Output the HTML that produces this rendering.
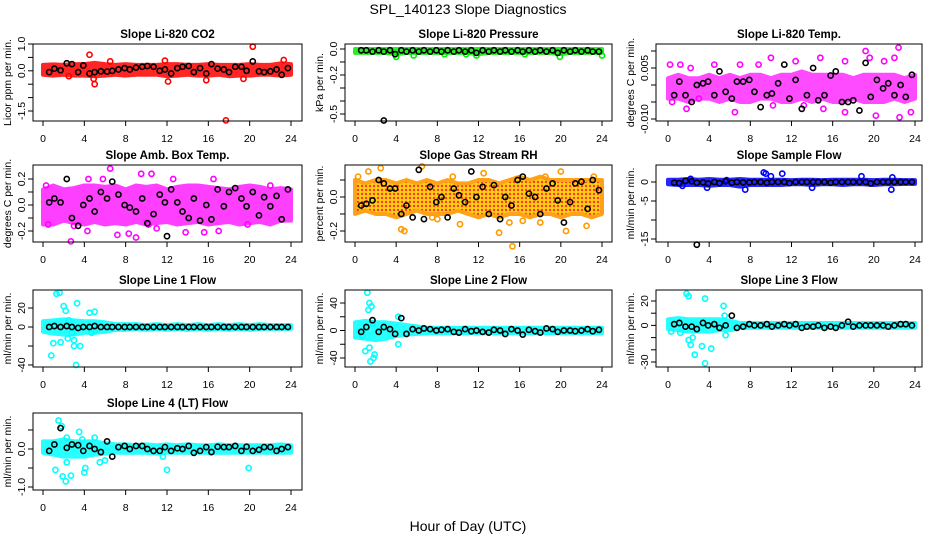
<!DOCTYPE html>
<html><head><meta charset="utf-8"><style>
html,body{margin:0;padding:0;background:#fff;}
svg{display:block;font-family:"Liberation Sans",sans-serif;}
</style></head><body>
<svg id="chart" width="936" height="540" viewBox="0 0 936 540">
<defs>
<pattern id="rhpat" width="4" height="4" patternUnits="userSpaceOnUse">
<rect width="4" height="4" fill="#ffcc00"/>
<circle cx="2" cy="2" r="1.2" fill="#ff2200"/>
</pattern>
</defs>
<text x="468" y="14" font-size="14" text-anchor="middle">SPL_140123  Slope Diagnostics</text>
<text x="468" y="531" font-size="14" text-anchor="middle">Hour of Day (UTC)</text>
</svg>
<script>
// ---- data ----
const hours = [0,1,2,3,4,5,6,7,8,9,10,11,12,13,14,15,16,17,18,19,20,21,22,23,24];
const blackTimes = [0.6,1.1,1.7,2.3,2.8,3.4,3.9,4.5,5.0,5.6,6.2,6.7,7.3,7.9,8.4,9.0,9.6,10.1,10.7,11.3,11.8,12.4,13.0,13.5,14.1,14.6,15.2,15.8,16.3,16.9,17.5,18.0,18.6,19.2,19.7,20.3,20.9,21.4,22.0,22.6,23.1,23.7];

const co2Upper = [0.22,0.24,0.22,0.25,0.25,0.3,0.25,0.22,0.25,0.22,0.22,0.22,0.25,0.25,0.22,0.22,0.25,0.22,0.22,0.22,0.25,0.22,0.22,0.28,0.25];
const co2Lower = [-0.15,-0.18,-0.15,-0.18,-0.18,-0.2,-0.18,-0.15,-0.18,-0.15,-0.15,-0.15,-0.2,-0.18,-0.15,-0.18,-0.18,-0.15,-0.2,-0.18,-0.18,-0.15,-0.15,-0.18,-0.15];
const co2OutX = [4.5,5.0,4.9,11.8,12.1,17.7,20.3,19.4,6.5,23.3,2.5,15.8];
const co2OutY = [0.6,-0.5,-0.3,0.38,-0.4,-1.85,0.9,-0.3,0.35,0.4,-0.2,-0.35];
const co2Black = [-0.05,0.08,0.02,0.28,0.25,-0.05,0.2,-0.1,-0.05,-0.02,-0.03,0.0,0.05,0.1,0.05,0.12,0.15,0.18,0.15,0.0,0.05,-0.1,0.1,0.15,0.18,-0.05,0.1,-0.1,0.25,0.08,0.05,-0.05,0.15,0.15,0.0,0.35,-0.02,-0.05,-0.02,0.05,-0.15,0.1];

const presUpper = [0.0,0.0,0.0,0.0,0.0,0.0,0.0,0.0,0.0,0.0,0.0,0.0,0.0,0.0,0.0,0.0,0.0,0.0,0.0,0.0,0.0,0.0,0.0,0.0,0.0];
const presLower = [-0.03,-0.03,-0.03,-0.03,-0.04,-0.03,-0.03,-0.03,-0.03,-0.03,-0.03,-0.03,-0.04,-0.03,-0.03,-0.03,-0.03,-0.03,-0.03,-0.03,-0.04,-0.03,-0.03,-0.03,-0.03];
const presOutX = [4.0,5.7,11.8,19.9,24.0,16.5,8.7,10.8];
const presOutY = [-0.06,-0.05,-0.05,-0.06,-0.05,-0.04,-0.04,-0.04];
const presBlack = [-0.01,-0.01,-0.02,-0.01,-0.02,-0.01,-0.04,-0.01,-0.02,-0.01,-0.02,-0.01,-0.02,-0.01,-0.02,-0.01,-0.02,-0.01,-0.02,-0.01,-0.03,-0.01,-0.02,-0.01,-0.02,-0.01,-0.02,-0.01,-0.02,-0.01,-0.02,-0.01,-0.02,-0.01,-0.03,-0.01,-0.02,-0.01,-0.02,-0.01,-0.02,-0.02];
const presExtraX = [2.8];
const presExtraY = [-0.55];

const tempUpper = [0.002,0.003,0.002,0.002,0.003,0.002,0.003,0.002,0.003,0.003,0.002,0.003,0.003,0.004,0.003,0.003,0.003,0.003,0.002,0.003,0.003,0.003,0.003,0.002,0.003];
const tempLower = [-0.004,-0.004,-0.005,-0.004,-0.004,-0.005,-0.004,-0.005,-0.005,-0.004,-0.004,-0.005,-0.005,-0.004,-0.005,-0.004,-0.005,-0.005,-0.004,-0.005,-0.005,-0.005,-0.004,-0.005,-0.004];
const tempOutX = [0.2,1.2,0.4,1.8,2.2,4.5,6.5,7.0,8.8,10,10.2,12.4,14.8,15.1,17.2,17.2,19.2,19.6,20.2,21.0,22.0,22.4,22.5,23.6,13.2,3.0];
const tempOutY = [0.006,0.006,-0.005,-0.007,0.005,0.006,-0.008,0.006,0.006,0.008,-0.006,0.007,0.008,-0.007,0.007,-0.008,0.010,0.008,-0.009,0.007,0.008,0.011,-0.0095,-0.008,-0.006,-0.004];
const tempBlack = [-0.003,0.001,-0.003,-0.005,0.0,0.0005,0.001,-0.003,0.004,-0.002,-0.004,0.001,0.001,0.0015,-0.002,-0.0065,-0.003,-0.0025,0.0005,0.006,-0.004,0.0015,-0.007,-0.003,0.005,-0.0045,-0.003,0.0028,0.004,-0.005,-0.005,-0.0045,-0.0075,0.0065,-0.0035,0.0015,-0.001,0.0005,-0.003,0.0,-0.0035,0.003];

const ambUpper = [0.12,0.15,0.12,0.13,0.15,0.15,0.14,0.15,0.12,0.15,0.14,0.15,0.12,0.14,0.15,0.15,0.14,0.13,0.12,0.14,0.15,0.14,0.12,0.13,0.12];
const ambLower = [-0.15,-0.15,-0.12,-0.14,-0.15,-0.13,-0.15,-0.14,-0.15,-0.13,-0.15,-0.14,-0.13,-0.15,-0.14,-0.13,-0.15,-0.14,-0.13,-0.15,-0.14,-0.13,-0.15,-0.12,-0.12];
const ambOutX = [0.3,0.5,2.7,3.0,4.3,5.8,6.5,7.2,8.3,9.0,9.5,10.5,11.0,12.6,13.8,15.6,16.5,17.0,22.0,4.4,10.2,19.8];
const ambOutY = [0.15,-0.15,-0.28,-0.16,-0.2,0.2,0.28,-0.23,-0.22,-0.25,0.24,0.24,-0.18,0.2,-0.21,-0.21,0.2,-0.2,0.15,0.2,-0.15,-0.15];
const ambBlack = [0.02,0.05,0.02,0.2,-0.1,-0.16,0.0,0.05,-0.05,0.1,0.05,0.18,0.08,0.0,-0.02,-0.05,0.05,-0.14,-0.07,0.08,0.02,0.12,0.02,-0.05,-0.1,0.05,-0.12,0.0,-0.11,0.12,-0.01,0.1,0.13,0.05,-0.01,0.1,-0.08,0.06,-0.01,0.07,-0.11,0.12];
const ambExtraX = [12.0];
const ambExtraY = [-0.24];

const rhUpper = [0.1,0.08,0.1,0.1,0.08,0.1,0.08,0.1,0.08,0.1,0.08,0.08,0.1,0.1,0.08,0.1,0.12,0.1,0.12,0.1,0.1,0.1,0.1,0.1,0.1];
const rhLower = [-0.1,-0.08,-0.1,-0.1,-0.12,-0.1,-0.08,-0.1,-0.1,-0.1,-0.08,-0.1,-0.12,-0.1,-0.12,-0.1,-0.1,-0.12,-0.1,-0.1,-0.12,-0.1,-0.1,-0.12,-0.1];
const rhOutX = [0.3,1.3,2.5,4.5,4.8,6.5,7.5,8.0,9.5,10.2,12.5,14.0,15.0,16.3,18.0,20.0,20.5,22.5,23.2,18.5,15.3];
const rhOutY = [0.12,0.15,0.17,-0.19,-0.2,0.18,-0.12,-0.13,0.12,-0.16,0.14,-0.21,-0.15,-0.14,-0.15,0.15,-0.2,-0.17,0.12,0.12,-0.29];
const rhBlack = [-0.05,-0.04,-0.02,0.1,0.08,0.05,0.05,-0.1,-0.05,-0.12,0.16,-0.13,0.06,-0.03,0.0,-0.12,0.05,0.01,-0.03,0.15,0.0,0.06,-0.1,0.07,-0.13,0.0,-0.05,0.1,0.12,0.02,0.0,-0.1,0.05,0.08,-0.02,-0.15,-0.03,0.08,0.09,-0.07,0.1,0.04];

const flowUpper = [0.6,0.6,0.8,0.6,0.8,0.6,0.6,0.8,0.6,0.6,0.6,0.6,0.5,0.6,0.6,0.5,0.6,0.6,0.6,0.6,0.5,0.6,0.6,0.5,0.5];
const flowLower = [-0.6,-0.8,-0.8,-0.8,-1.0,-0.8,-0.8,-1.2,-0.8,-0.8,-0.8,-0.8,-0.6,-0.6,-0.8,-0.6,-0.6,-0.8,-0.6,-0.6,-0.8,-0.6,-0.6,-0.5,-0.5];
const flowOutX = [9.3,9.5,10.0,11.1,18.8,21.8,21.7,7.5,3.8,1.4,14.0,2.2,5.7];
const flowOutY = [2.5,2.2,1.5,2.2,1.5,1.2,-2.0,-2.0,-1.5,-1.0,-1.5,0.8,0.5];
const flowBlack = [-0.2,-0.3,0.3,0.2,-0.2,-0.1,-0.4,0.0,-0.3,0.2,-0.2,0.0,-0.1,-0.1,0.0,0.0,-0.2,0.0,0.0,0.0,-0.3,0.0,0.0,0.0,0.0,0.0,0.0,-0.2,0.0,0.0,0.0,0.0,0.0,0.0,-0.4,0.0,0.0,0.0,0.0,0.0,0.0,0.0];
const flowExtraX = [2.8];
const flowExtraY = [-16.5];

const l1Upper = [6,7,8,7,6,6,5,3,3,3,2,3,2,3,2,3,2,3,2,3,2,3,2,2,2];
const l1Lower = [-5,-7,-8,-8,-6,-6,-5,-3,-3,-2,-3,-2,-3,-2,-3,-2,-3,-2,-3,-2,-3,-2,-2,-2,-2];
const l1OutX = [1.0,1.3,1.6,1.7,2.0,2.2,2.4,0.8,3.0,3.0,3.3,3.6,2.8,4.5,4.7,5.0,5.0,3.2,2.5];
const l1OutY = [-17,35,36,-16,22,17,-12,-30,-14,-20,25,-20,-6,15,-6,16,-4,-40,7];
const l1Black = [0,1,0,1,0,-1,0,0,1,0,0,0,0,0,0,0,0,0,0,0,0,0,0,0,0,0,0,0,0,0,0,0,0,0,0,0,0,0,0,0,0,0];

const l2Upper = [12,14,12,12,10,8,6,4,4,4,4,4,4,4,4,4,4,4,4,4,4,4,4,4,4];
const l2Lower = [-10,-12,-14,-12,-8,-6,-5,-4,-4,-4,-4,-4,-4,-4,-4,-4,-4,-4,-4,-4,-4,-4,-4,-4,-4];
const l2OutX = [1.2,1.4,1.6,1.3,1.0,1.4,1.5,1.9,1.8,4.2,4.2,0.7,1.7];
const l2OutY = [55,40,35,30,-30,-25,-45,-35,-40,20,-20,-8,10];
const l2Black = [-2,5,15,-2,5,2,-5,18,-5,2,0,3,2,0,1,2,-2,-3,2,-1,0,-2,-3,1,0,-5,2,0,-6,1,-1,-3,3,2,-2,0,0,-1,0,2,-1,1];

const l3Upper = [5,6,5,5,5,5,4,2,2,2,2,2,2,2,2,2,2,2,2,2,2,2,2,2,2];
const l3Lower = [-3,-4,-5,-5,-5,-4,-4,-2,-2,-2,-2,-2,-2,-2,-2,-2,-2,-2,-2,-2,-2,-2,-2,-2,-2];
const l3OutX = [1.8,2.0,3.6,5.4,1.2,0.3,2.2,2.4,2.6,3.3,3.6,4.2,5.6,2.0,5.5];
const l3OutY = [26,24,22,16,-6,-5,-16,-10,-24,-17,-31,-19,-8,-12,8];
const l3Black = [1,2,-1,-1,-3,2,0,1,-2,0,8,-2,-1,1,0,0,1,-1,0,1,0,1,-2,-1,-1,0,-2,-1,-2,0,3,-1,0,0,0,0,0,-1,0,1,1,0];

const l4Upper = [0.2,0.2,0.25,0.2,0.2,0.2,0.15,0.12,0.12,0.1,0.12,0.1,0.12,0.1,0.12,0.1,0.1,0.12,0.1,0.1,0.1,0.1,0.1,0.12,0.1];
const l4Lower = [-0.1,-0.15,-0.2,-0.2,-0.2,-0.15,-0.12,-0.1,-0.1,-0.1,-0.1,-0.12,-0.1,-0.1,-0.1,-0.1,-0.1,-0.1,-0.1,-0.1,-0.1,-0.1,-0.1,-0.1,-0.1];
const l4OutX = [1.5,1.8,2.3,3.5,5.0,1.2,1.9,2.2,2.7,4.0,4.1,5.5,6.0,2.3,12.0,19.9,11.6,3.8];
const l4OutY = [0.75,0.6,0.3,0.45,0.3,-0.55,-0.72,-0.85,-0.7,-0.62,-0.5,-0.35,-0.3,-0.35,-0.55,-0.5,-0.2,0.25];
const l4Black = [-0.05,0.12,0.55,0.03,0.12,0.1,-0.05,0.08,0.0,-0.08,0.2,-0.2,0.05,0.08,0.0,0.08,0.08,0.0,-0.05,-0.05,0.05,-0.05,0.02,0.0,0.08,-0.1,-0.05,0.05,-0.08,0.06,0.05,0.05,0.08,-0.05,0.06,-0.05,-0.02,0.05,0.05,-0.05,0.0,0.05];

const xTicks = [0,4,8,12,16,20,24];

// ---- layout ----
const NS = "http://www.w3.org/2000/svg";
const svg = document.getElementById('chart');
const rowTop = [44,165,290,413];
const boxH = 77;
const cols = [{L:33,R:302,x0:43,x24:291},{L:345,R:612,x0:355,x24:602},{L:656,R:922,x0:668,x24:915}];

const panels = [
 {name:'co2',title:'Slope Li-820 CO2',ylab:'Licor ppm per min.',r:0,c:0,color:'#ff0000',fill:'#ff0000',op:0.85,up:co2Upper,lo:co2Lower,ox:co2OutX,oy:co2OutY,bk:co2Black,v1:1.0,p1:44,v2:-1.5,p2:111,ticks:[1,0.5,0,-0.5,-1,-1.5],labels:['1.0','','0.0','','','-1.5']},
 {name:'pressure',title:'Slope Li-820 Pressure',ylab:'kPa per min.',r:0,c:1,color:'#00ee00',fill:'#00ee00',op:0.85,up:presUpper,lo:presLower,ox:presOutX,oy:presOutY,bk:presBlack,ex:presExtraX,ey:presExtraY,v1:0,p1:49,v2:-0.5,p2:114,ticks:[0,-0.1,-0.2,-0.3,-0.4,-0.5],labels:['0.0','','-0.2','','','-0.5']},
 {name:'li820-temp',title:'Slope Li-820 Temp.',ylab:'degrees C per min.',r:0,c:2,color:'#ff00ff',fill:'#ff00ff',op:0.7,up:tempUpper,lo:tempLower,ox:tempOutX,oy:tempOutY,bk:tempBlack,v1:0.005,p1:68,v2:-0.010,p2:119,ticks:[0.010,0.005,0,-0.005,-0.010],labels:['','0.005','','','-0.010']},
 {name:'amb-box-temp',title:'Slope Amb. Box Temp.',ylab:'degrees C per min.',r:1,c:0,color:'#ff00ff',fill:'#ff00ff',op:0.75,up:ambUpper,lo:ambLower,ox:ambOutX,oy:ambOutY,bk:ambBlack,ex:ambExtraX,ey:ambExtraY,v1:0.2,p1:179,v2:-0.2,p2:231,ticks:[0.2,0.1,0,-0.1,-0.2],labels:['0.2','','0.0','','-0.2']},
 {name:'gas-stream-rh',title:'Slope Gas Stream RH',ylab:'percent per min.',r:1,c:1,color:'#ff9900',fill:'url(#rhpat)',op:0.9,up:rhUpper,lo:rhLower,ox:rhOutX,oy:rhOutY,bk:rhBlack,v1:0,p1:197,v2:-0.2,p2:231,ticks:[0.1,0,-0.1,-0.2],labels:['','0.0','','-0.2']},
 {name:'sample-flow',title:'Slope Sample Flow',ylab:'ml/min per min.',r:1,c:2,color:'#0000ff',fill:'#0000ff',op:0.85,up:flowUpper,lo:flowLower,ox:flowOutX,oy:flowOutY,bk:flowBlack,ex:flowExtraX,ey:flowExtraY,v1:0,p1:182,v2:-15,p2:239,ticks:[0,-5,-10,-15],labels:['0','-5','','-15']},
 {name:'line1-flow',title:'Slope Line 1 Flow',ylab:'ml/min per min.',r:2,c:0,color:'#00ffff',fill:'#00ffff',op:0.85,up:l1Upper,lo:l1Lower,ox:l1OutX,oy:l1OutY,bk:l1Black,v1:20,p1:308,v2:-40,p2:365,ticks:[20,0,-20,-40],labels:['20','0','','-40']},
 {name:'line2-flow',title:'Slope Line 2 Flow',ylab:'ml/min per min.',r:2,c:1,color:'#00ffff',fill:'#00ffff',op:0.85,up:l2Upper,lo:l2Lower,ox:l2OutX,oy:l2OutY,bk:l2Black,v1:40,p1:303,v2:-40,p2:358,ticks:[40,20,0,-20,-40],labels:['40','','0','','-40']},
 {name:'line3-flow',title:'Slope Line 3 Flow',ylab:'ml/min per min.',r:2,c:2,color:'#00ffff',fill:'#00ffff',op:0.85,up:l3Upper,lo:l3Lower,ox:l3OutX,oy:l3OutY,bk:l3Black,v1:20,p1:301,v2:-30,p2:362,ticks:[20,10,0,-10,-20,-30],labels:['20','','0','','','-30']},
 {name:'line4-flow',title:'Slope Line 4 (LT) Flow',ylab:'ml/min per min.',r:3,c:0,color:'#00ffff',fill:'#00ffff',op:0.85,up:l4Upper,lo:l4Lower,ox:l4OutX,oy:l4OutY,bk:l4Black,v1:0,p1:449,v2:-1.0,p2:487,ticks:[0.5,0,-0.5,-1.0],labels:['','0.0','','-1.0']}
];

function el(tag, attrs, parent){
  const e = document.createElementNS(NS, tag);
  for (const k in attrs) e.setAttribute(k, attrs[k]);
  parent.appendChild(e);
  return e;
}

panels.forEach(p => {
  const col = cols[p.c];
  const top = rowTop[p.r], bot = top + boxH;
  const xs = h => col.x0 + (col.x24 - col.x0) * h / 24;
  const ys = v => p.p1 + (p.p2 - p.p1) * (v - p.v1) / (p.v2 - p.v1);
  const g = el('g', {}, svg);
  
  

  const t = el('text', {x:(col.L+col.R)/2, y:top-6, 'font-size':11.5, 'font-weight':'bold', 'text-anchor':'middle'}, g);
  
  
  t.textContent = p.title;

  const yl = el('text', {x:0, y:0, 'font-size':10.5, 'text-anchor':'middle', transform:'translate(' + (col.L-22) + ',' + ((top+bot)/2) + ') rotate(-90)'}, g);
  
  
  yl.textContent = p.ylab;

  let d = '';
  hours.forEach((h,i) => { d += (i ? 'L' : 'M') + xs(h).toFixed(1) + ',' + ys(p.up[i]).toFixed(1); });
  for (let i = hours.length - 1; i >= 0; i--) d += 'L' + xs(hours[i]).toFixed(1) + ',' + ys(p.lo[i]).toFixed(1);
  d += 'Z';
  const band = el('path', {d:d, fill:p.fill, stroke:p.color, 'stroke-width':4, 'stroke-linejoin':'round', opacity:p.op}, g);
  
  

  p.ox.forEach((x,i) => {
    const c = el('circle', {cx:xs(x), cy:ys(p.oy[i]), r:2.6, fill:'none', stroke:p.color, 'stroke-width':1.6}, g);
    
    
  });
  blackTimes.forEach((x,i) => {
    const c = el('circle', {cx:xs(x), cy:ys(p.bk[i]), r:2.6, fill:'none', stroke:'#000', 'stroke-width':1.6}, g);
    
    
  });
  if (p.ex) p.ex.forEach((x,i) => {
    const c = el('circle', {cx:xs(x), cy:ys(p.ey[i]), r:2.6, fill:'none', stroke:'#000', 'stroke-width':1.6}, g);
    
    
  });

  const box = el('rect', {x:col.L, y:top, width:col.R-col.L, height:boxH, fill:'none', stroke:'#000', 'stroke-width':1}, g);
  
  

  xTicks.forEach(h => {
    const x = xs(h);
    const tk = el('line', {x1:x, x2:x, y1:bot, y2:bot+5, stroke:'#000', 'stroke-width':1}, g);
    
    
    const lb = el('text', {x:x, y:bot+21, 'font-size':10.5, 'text-anchor':'middle'}, g);
    
    
    lb.textContent = h;
  });
  p.ticks.forEach((v,i) => {
    const y = ys(v);
    const tk = el('line', {x1:col.L-5, x2:col.L, y1:y, y2:y, stroke:'#000', 'stroke-width':1}, g);
    
    
    if (p.labels[i]) {
      const lb = el('text', {x:0, y:0, 'font-size':10.5, 'text-anchor':'middle', transform:'translate(' + (col.L-8) + ',' + y + ') rotate(-90)'}, g);
      
      
      lb.textContent = p.labels[i];
    }
  });
});
</script>
</body></html>
